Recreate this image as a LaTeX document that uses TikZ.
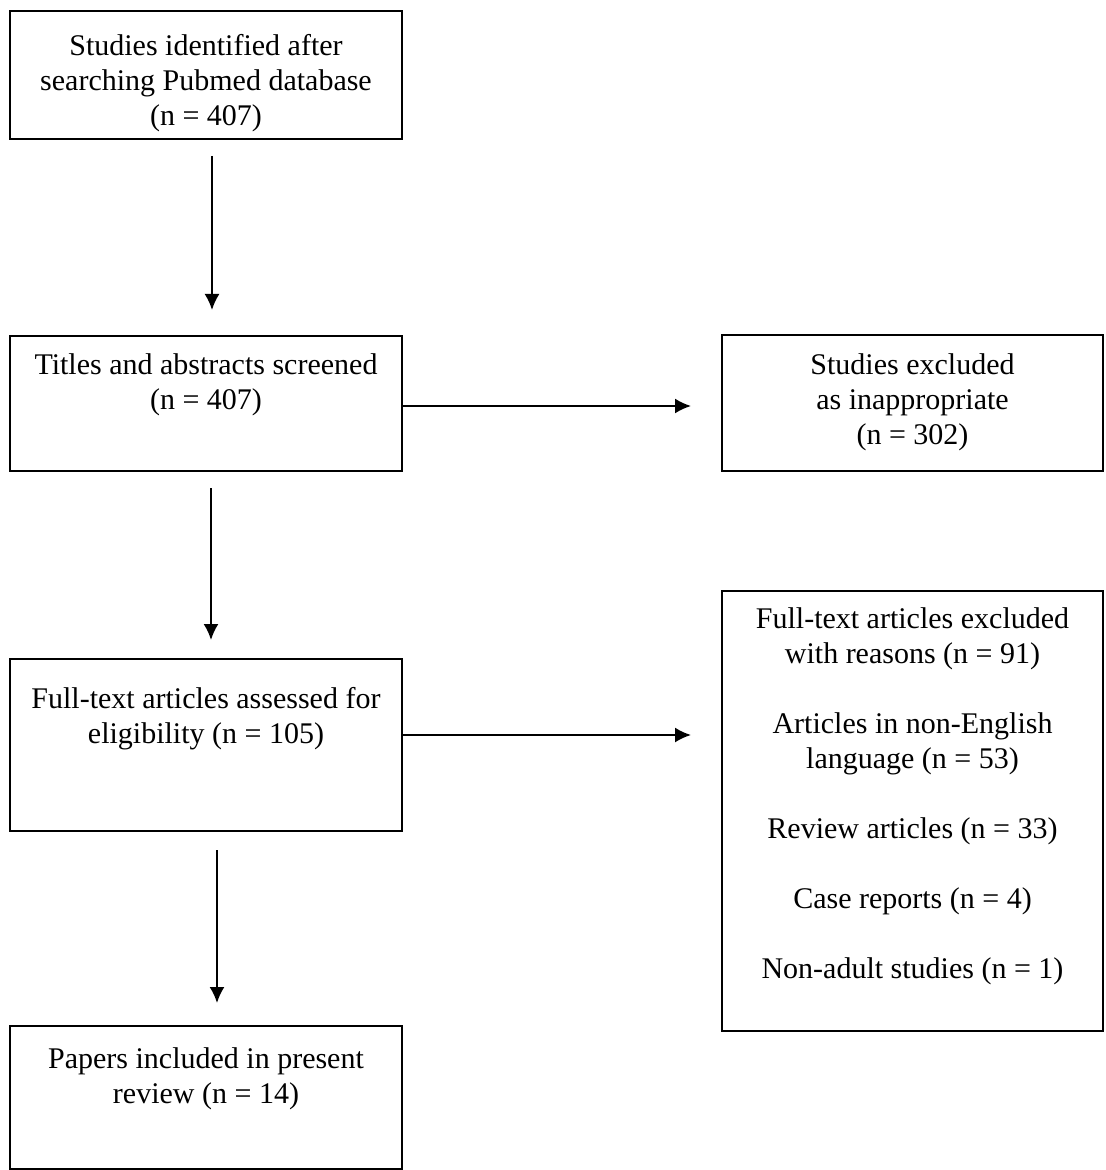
\documentclass[tikz,border=0pt]{standalone}
\usepackage{fontspec}
\setmainfont{Liberation Serif}
\usetikzlibrary{arrows.meta,calc}
\tikzstyle{line} = [draw, line width=1pt, -{Latex[length=8pt,width=7.5pt]}]
\tikzstyle{block} = [draw, line width=1pt, rectangle, align=flush center, inner sep=0pt, anchor=north, text width=196pt, font=\fontsize{15}{17.5}\selectfont]
\tikzstyle{sideblock} = [block, text width=190.5pt]
\begin{document}
\begin{tikzpicture}[x=0.5pt, y=-0.5pt]
        \useasboundingbox (0,0) rectangle (1105,1170);
        \node[block, text height=22.5pt, text depth=41.5pt] (search) at (206,10) {Studies identified after\\ searching Pubmed database\\ (n = 407)};
        \node[block, text height=19pt, text depth=48.5pt] (screen) at (206,335) {Titles and abstracts screened\\ (n = 407)};
        \node[sideblock, text height=19.5pt, text depth=48.5pt] (inappr) at (912.5,334) {Studies excluded\\ as inappropriate\\ (n = 302)};
        \node[block, text height=24.5pt, text depth=61.5pt] (fulltext) at (206,658) {Full-text articles assessed for\\ eligibility (n = 105)};
        \node[sideblock, text height=18.5pt, text depth=201.5pt] (reasons) at (912.5,590) {Full-text articles excluded\\ with reasons (n = 91)\\[17.5pt] Articles in non-English\\ language (n = 53)\\[17.5pt] Review articles (n = 33)\\[17.5pt] Case reports (n = 4)\\[17.5pt] Non-adult studies (n = 1)};
        \node[block, text height=21pt, text depth=50.5pt] (included) at (206,1025) {Papers included in present\\ review (n = 14)};
        \path[line, shorten <=8pt, shorten >=12.5pt] ([xshift=3pt]search.south) -- ([xshift=3pt]screen.north);
        \path[line, shorten <=8pt, shorten >=9pt] ([xshift=2.5pt]screen.south) -- ([xshift=2.5pt]fulltext.north);
        \path[line, shorten <=9pt, shorten >=11pt] ([xshift=5.5pt]fulltext.south) -- ([xshift=5.5pt]included.north);
        \path[line, shorten >=15pt] ([yshift=-1.25pt]screen.east) -- ([yshift=-1.25pt]screen.east -| inappr.west);
        \path[line, shorten >=15pt] ([yshift=5pt]fulltext.east) -- ([yshift=5pt]fulltext.east -| reasons.west);
    \end{tikzpicture}
\end{document}
